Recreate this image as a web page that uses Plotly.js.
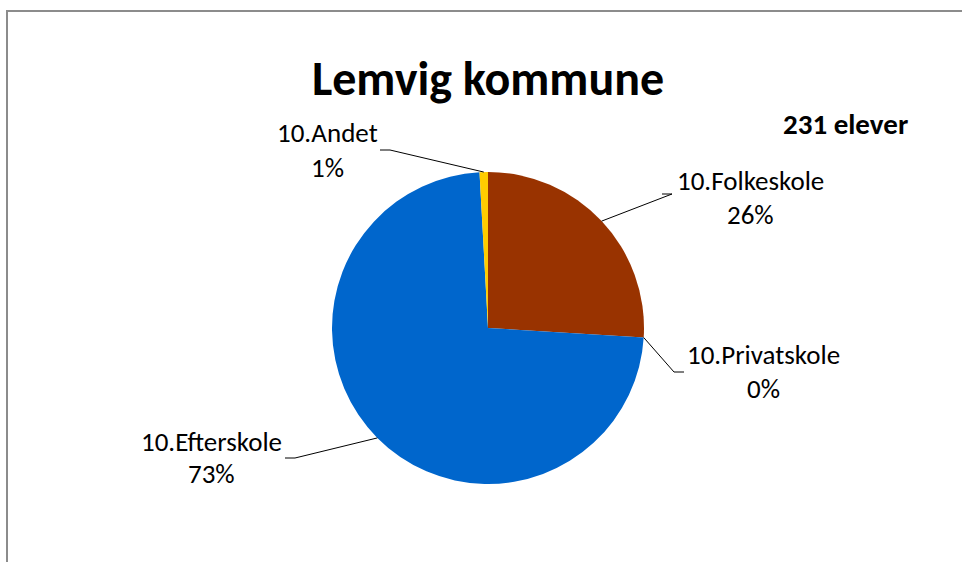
<!DOCTYPE html>
<html>
<head>
<meta charset="utf-8">
<script src="https://cdn.plot.ly/plotly-3.0.1.min.js"></script>
<style>
html,body{margin:0;padding:0;background:#fff;overflow:hidden;}
#frame{position:absolute;left:6px;top:10px;width:1000px;height:600px;border-left:2px solid #8c8c8c;border-top:2px solid #8c8c8c;}
#chart{position:absolute;left:0;top:0;width:962px;height:562px;}
</style>
</head>
<body>
<div id="frame"></div>
<div id="chart"></div>
<script>
// Data
const categories = ["10.Folkeskole", "10.Privatskole", "10.Efterskole", "10.Andet"];
const values = [60, 0, 169, 2];
const colors = ["#993300", "#A5A5A5", "#0066CC", "#FFCC00"];
const totalLabel = "231 elever";
const chartTitle = "Lemvig kommune";

// Layout geometry (pixels)
const W = 962, H = 562;
const cx = 488, cy = 328, R = 156;
const FONT = "Carlito, Calibri, Lato, 'Open Sans', sans-serif";

// label layout: text center, elbow start/end (pixels)
const labelPos = [
  {tx: 750, ty: 180, py: 214, e1: [672, 194], e2: [662, 194]},
  {tx: 763, ty: 354, py: 388, e1: [674, 372], e2: [684, 372]},
  {tx: 211, ty: 441, py: 474, e1: [295, 458], e2: [285, 458]},
  {tx: 327, ty: 133, py: 168, e1: [390, 150], e2: [380, 150]}
];

const px = x => x / W;
const py = y => 1 - y / H;

const total = values.reduce((a, b) => a + b, 0);
const pct = values.map(v => Math.round(v / total * 100) + "%");

// anchor points on slice edges (clockwise from 12 o'clock)
let cum = 0;
const anchors = values.map(v => {
  const mid = (cum + v / 2) / total * 2 * Math.PI;
  cum += v;
  return [cx + R * Math.sin(mid), cy - R * Math.cos(mid)];
});

const annotations = [];
const shapes = [];
categories.forEach((c, i) => {
  const L = labelPos[i];
  annotations.push({xref: "paper", yref: "paper", x: px(L.tx), y: py(L.ty), text: c, showarrow: false,
    xanchor: "center", yanchor: "middle", font: {family: FONT, size: 27, color: "#000"}});
  annotations.push({xref: "paper", yref: "paper", x: px(L.tx), y: py(L.py), text: pct[i], showarrow: false,
    xanchor: "center", yanchor: "middle", font: {family: FONT, size: 27, color: "#000"}});
  const a = anchors[i];
  shapes.push({type: "path", xref: "paper", yref: "paper",
    path: `M ${px(a[0])} ${py(a[1])} L ${px(L.e1[0])} ${py(L.e1[1])} L ${px(L.e2[0])} ${py(L.e2[1])}`,
    line: {color: "#000", width: 1}});
});
annotations.push({xref: "paper", yref: "paper", x: px(845), y: py(124), text: "<b>" + totalLabel + "</b>",
  showarrow: false, xanchor: "center", yanchor: "middle", font: {family: FONT, size: 29, color: "#000"}});

const trace = {
  type: "pie",
  labels: categories,
  values: values,
  sort: false,
  direction: "clockwise",
  rotation: 0,
  textinfo: "none",
  hoverinfo: "label+percent",
  marker: {colors: colors, line: {width: 0}},
  showlegend: false,
  domain: {x: [px(cx - R), px(cx + R)], y: [py(cy + R), py(cy - R)]}
};

const layout = {
  width: W, height: H,
  margin: {l: 0, r: 0, t: 0, b: 0},
  paper_bgcolor: "rgba(0,0,0,0)",
  plot_bgcolor: "rgba(0,0,0,0)",
  title: {text: "<b>" + chartTitle + "</b>", x: px(488), xanchor: "center", y: py(78), yanchor: "middle",
    font: {family: FONT, size: 48, color: "#000"}},
  annotations: annotations,
  shapes: shapes
};

Plotly.newPlot("chart", [trace], layout, {displayModeBar: false, staticPlot: true});
</script>
</body>
</html>
